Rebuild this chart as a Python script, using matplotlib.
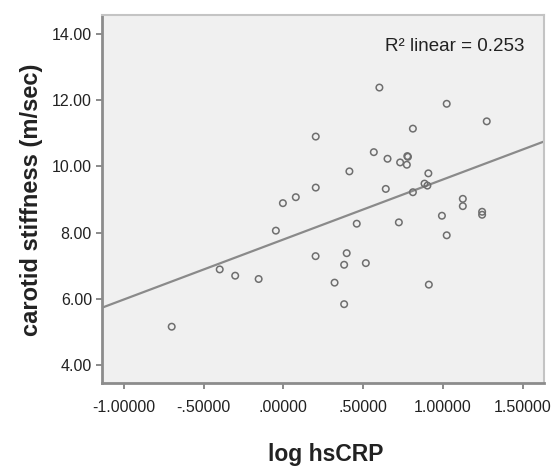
import numpy as np
import matplotlib
matplotlib.use("Agg")
import matplotlib.pyplot as plt

plt.rcParams['font.family'] = ['Liberation Sans', 'DejaVu Sans']

# log hsCRP vs carotid stiffness
log_hscrp = [0.602, 1.024, 1.275, 0.812, 0.203, 0.567, 0.653, 0.777, 0.781,
             0.732, 0.774, 0.414, 0.909, 0.203, 0.642, 0.812, 0.885, 0.903,
             0.078, -0.003, 1.125, 1.125, 1.246, 1.246, 0.994, -0.047, 0.460,
             0.724, 1.024, 0.202, 0.397, 0.381, 0.517, -0.399, -0.302, -0.155,
             0.321, 0.912, 0.381, -0.700]
stiffness = [12.38, 11.89, 11.36, 11.14, 10.90, 10.43, 10.23, 10.31, 10.29,
             10.12, 10.05, 9.85, 9.79, 9.36, 9.32, 9.22, 9.48, 9.42,
             9.07, 8.89, 9.02, 8.80, 8.63, 8.54, 8.51, 8.06, 8.27,
             8.31, 7.92, 7.29, 7.38, 7.03, 7.08, 6.89, 6.70, 6.60,
             6.49, 6.43, 5.84, 5.16]

x_ticks = [-1.0, -0.5, 0.0, 0.5, 1.0, 1.5]
x_tick_labels = ['-1.00000', '-.50000', '.00000', '.50000', '1.00000', '1.50000']
y_ticks = [4, 6, 8, 10, 12, 14]
y_tick_labels = ['4.00', '6.00', '8.00', '10.00', '12.00', '14.00']
r2_text = 'R\u00b2 linear = 0.253'

fig = plt.figure(figsize=(5.55, 4.68), dpi=100)
ax = fig.add_axes([0.1832, 0.1816, 0.7970, 0.7863])
ax.set_facecolor('#f0f0f0')

xlim = (-1.139, 1.634)
ax.set_xlim(xlim)
ax.set_ylim(3.46, 14.57)

# fit line
slope, intercept = np.polyfit(log_hscrp, stiffness, 1)
xs = np.array(xlim)
ax.plot(xs, slope * xs + intercept, color='#8a8a8a', lw=1.6, zorder=2)

ax.scatter(log_hscrp, stiffness, s=22, facecolors='none', edgecolors='#6e6e6e',
           linewidths=1.1, zorder=3)

ax.set_xticks(x_ticks)
ax.set_xticklabels(x_tick_labels)
ax.set_yticks(y_ticks)
ax.set_yticklabels(y_tick_labels)
ax.tick_params(direction='out', length=4, width=1.2, color='#777777',
               labelsize=11.5, labelcolor='#222222', pad=3)
ax.tick_params(axis='x', pad=8)

for side in ['left', 'bottom']:
    ax.spines[side].set_color('#8c8c8c')
    ax.spines[side].set_linewidth(2)
for side in ['top', 'right']:
    ax.spines[side].set_color('#c4c4c4')
    ax.spines[side].set_linewidth(1.5)

ax.text(0.955, 0.915, r2_text, transform=ax.transAxes, ha='right', va='center',
        fontsize=13.5, color='#222222')

fig.text(326 / 555, 1 - 461.5 / 468, 'log hsCRP', ha='center', va='baseline',
         fontsize=16.5, fontweight='bold', color='#222222')
fig.text(32 / 555, 1 - 200 / 468, 'carotid stiffness (m/sec)', ha='center',
         va='center', rotation=90, fontsize=17, fontweight='bold', color='#222222')

fig.savefig('out.png', dpi=100)
